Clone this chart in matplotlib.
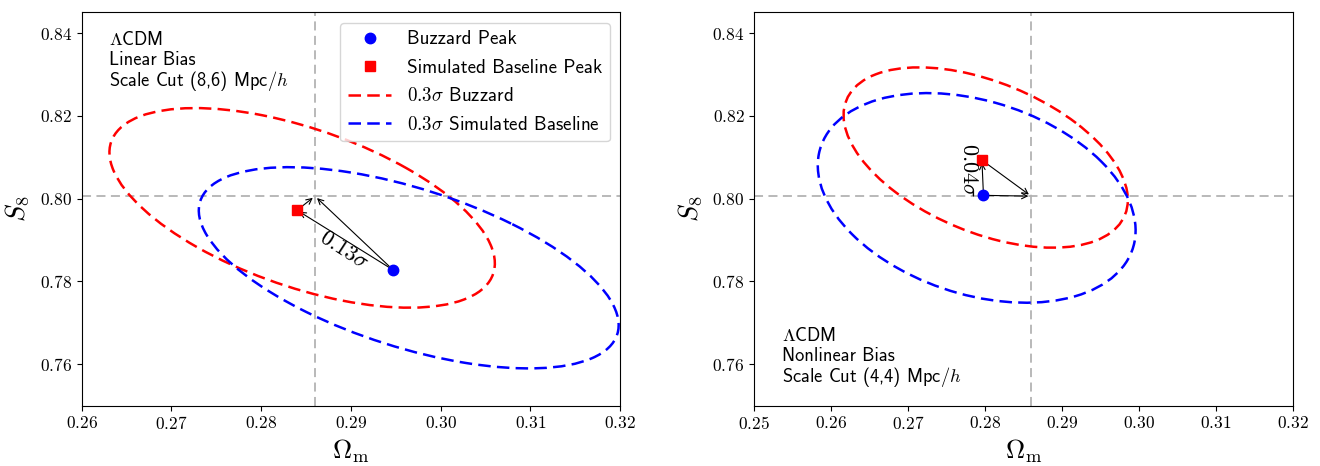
import numpy as np
import matplotlib
matplotlib.use('Agg')
import matplotlib.pyplot as plt
from matplotlib.patches import Ellipse
from matplotlib.lines import Line2D
from matplotlib.ticker import FuncFormatter, MultipleLocator

plt.rcParams['mathtext.fontset'] = 'cm'
plt.rcParams['font.family'] = ['cmss10', 'DejaVu Sans']

# ---------------- data (left panel, right panel) ----------------
fid_om = 0.286
fid_s8 = 0.8006

buzzard_peak_om = [0.2947, 0.2798]
buzzard_peak_s8 = [0.7828, 0.8008]
baseline_peak_om = [0.2840, 0.2796]
baseline_peak_s8 = [0.7972, 0.8093]

# 0.3 sigma contours: centre, half-extent in x and y, correlation
red_cx = [0.28457, 0.28009]
red_cy = [0.79777, 0.80993]
red_wx = [0.02148, 0.01848]
red_wy = [0.02410, 0.02177]
red_rho = [-0.556, -0.47]

blue_cx = [0.29645, 0.27892]
blue_cy = [0.78330, 0.80018]
blue_wx = [0.02340, 0.02066]
blue_wy = [0.02430, 0.02531]
blue_rho = [-0.57, -0.31]

shift_labels = [r'$0.13\sigma$', r'$0.04\sigma$']
shift_label_om = [0.2892, 0.27783]
shift_label_s8 = [0.7875, 0.80703]
shift_label_rot = [-33, -90]

panel_lines = [[r'$\Lambda$CDM', 'Linear Bias', r'Scale Cut (8,6) Mpc/$h$'],
               [r'$\Lambda$CDM', 'Nonlinear Bias', r'Scale Cut (4,4) Mpc/$h$']]
panel_line_x = [0.0513, 0.0517]
panel_line_y = [[0.9181, 0.8655, 0.8129],
                [0.1645, 0.1136, 0.0610]]

xlims = [(0.26, 0.32), (0.25, 0.32)]
ylim = (0.75, 0.845)

# ---------------- figure ----------------
fig = plt.figure(figsize=(13.2, 4.66), dpi=100)
axes = [fig.add_axes([0.0619, 0.1294, 0.4078, 0.8442]),
        fig.add_axes([0.5714, 0.1294, 0.4079, 0.8442])]

dash = (0, (5, 2.5))
lw_c = 1.8


def contour_ellipse(cx, cy, wx, wy, rho, color):
    cov = np.array([[wx * wx, rho * wx * wy], [rho * wx * wy, wy * wy]])
    vals, vecs = np.linalg.eigh(cov)
    big = np.argmax(vals)
    small = 1 - big
    ang = np.degrees(np.arctan2(vecs[1, big], vecs[0, big]))
    return Ellipse((cx, cy), 2 * np.sqrt(vals[big]), 2 * np.sqrt(vals[small]),
                   angle=ang, fill=False, edgecolor=color, linestyle=dash,
                   linewidth=lw_c, zorder=3)


fmt = FuncFormatter(lambda v, p: '$%.2f$' % v)

for i, ax in enumerate(axes):
    ax.set_xlim(*xlims[i])
    ax.set_ylim(*ylim)
    ax.xaxis.set_major_locator(MultipleLocator(0.01))
    ax.yaxis.set_major_locator(MultipleLocator(0.02))
    ax.xaxis.set_major_formatter(fmt)
    ax.yaxis.set_major_formatter(fmt)
    ax.tick_params(labelsize=12.5)

    ax.axvline(fid_om, color='#b3b3b3', lw=1.3, ls=(0, (5, 3)), zorder=1)
    ax.axhline(fid_s8, color='#b3b3b3', lw=1.3, ls=(0, (5, 3)), zorder=1)

    ax.add_patch(contour_ellipse(red_cx[i], red_cy[i], red_wx[i], red_wy[i], red_rho[i], 'red'))
    ax.add_patch(contour_ellipse(blue_cx[i], blue_cy[i], blue_wx[i], blue_wy[i], blue_rho[i], 'blue'))

    bp = (buzzard_peak_om[i], buzzard_peak_s8[i])
    sp = (baseline_peak_om[i], baseline_peak_s8[i])
    fp = (fid_om, fid_s8)
    ap = dict(arrowstyle='->', color='k', lw=0.8)
    ax.annotate('', xy=sp, xytext=bp, arrowprops=ap, zorder=4)
    ax.annotate('', xy=fp, xytext=bp, arrowprops=ap, zorder=4)
    ax.annotate('', xy=fp, xytext=sp, arrowprops=ap, zorder=4)

    ax.plot(buzzard_peak_om[i], buzzard_peak_s8[i], 'o', color='blue', ms=7.5, zorder=5)
    ax.plot(baseline_peak_om[i], baseline_peak_s8[i], 's', color='red', ms=7.5, zorder=5)

    ax.text(shift_label_om[i], shift_label_s8[i], shift_labels[i], fontsize=16,
            rotation=shift_label_rot[i], ha='center', va='center', zorder=6)

    ax.set_xlabel(r'$\Omega_{\rm m}$', fontsize=19, labelpad=4)
    ax.set_ylabel(r'$S_8$', fontsize=19, labelpad=6)

    for line, yy in zip(panel_lines[i], panel_line_y[i]):
        ax.text(panel_line_x[i], yy, line, transform=ax.transAxes,
                fontsize=13.3, ha='left', va='baseline')

handles = [Line2D([], [], marker='o', color='blue', ls='none', ms=7.5),
           Line2D([], [], marker='s', color='red', ls='none', ms=7.5),
           Line2D([], [], color='red', ls=dash, lw=lw_c),
           Line2D([], [], color='blue', ls=dash, lw=lw_c)]
labels = ['Buzzard Peak', 'Simulated Baseline Peak',
          r'$0.3\sigma$ Buzzard', r'$0.3\sigma$ Simulated Baseline']
axes[0].legend(handles, labels, loc='upper right', fontsize=13.7,
               handlelength=2.3, numpoints=1, labelspacing=0.55,
               borderaxespad=0.55)

fig.savefig('out.png', dpi=100)
